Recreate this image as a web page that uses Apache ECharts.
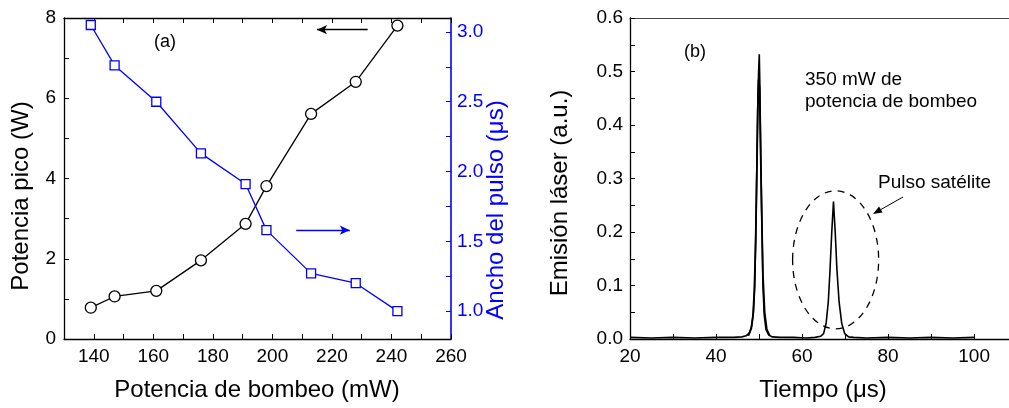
<!DOCTYPE html>
<html>
<head>
<meta charset="utf-8">
<script src="https://cdn.jsdelivr.net/npm/echarts@6.0.0/dist/echarts.min.js"></script>
<style>
  html, body { margin: 0; padding: 0; background: #fff; }
  #chart { width: 1009px; height: 408px; }
</style>
</head>
<body>
<div id="chart"></div>
<script>
// (a) potencia de bombeo vs potencia pico / ancho del pulso
var pumpPower = [139, 147, 161, 176, 191, 198, 213, 228, 242];
var peakPower = [0.78, 1.06, 1.20, 1.96, 2.87, 3.81, 5.61, 6.41, 7.81];
var pulseWidth = [3.05, 2.76, 2.50, 2.13, 1.91, 1.58, 1.27, 1.20, 1.00];

// (b) traza de osciloscopio
var time = [20, 25, 30, 35, 40, 44, 46, 47, 47.8, 48.3, 48.7, 49.0, 49.3, 49.55, 49.75, 49.9, 50.05, 50.2, 50.4, 50.65, 50.9, 51.2, 51.6, 52.2, 53,
  55, 58, 61, 63, 64.3, 65.0, 65.6, 66.1, 66.5, 66.9, 67.3, 67.7, 68.1, 68.6, 69.2, 69.9, 70.8, 72, 75, 80, 85, 90, 95, 100];
var emission = [0.003, 0.002, 0.003, 0.002, 0.003, 0.003, 0.004, 0.006, 0.012, 0.025, 0.05, 0.10, 0.22, 0.36, 0.46, 0.5, 0.532, 0.47, 0.34, 0.22, 0.1, 0.045, 0.018, 0.008, 0.004,
  0.003, 0.003, 0.002, 0.003, 0.005, 0.01, 0.03, 0.07, 0.13, 0.2, 0.257, 0.2, 0.13, 0.07, 0.03, 0.01, 0.004, 0.003, 0.002, 0.003, 0.002, 0.003, 0.002, 0.003];
// segunda traza superpuesta del pulso principal
var time2 = [47.5, 48.2, 48.6, 48.9, 49.2, 49.5, 49.7, 49.9, 50.1, 50.3, 50.6, 50.9, 51.3, 51.8, 52.5];
var emission2 = [0.006, 0.02, 0.045, 0.09, 0.18, 0.32, 0.43, 0.485, 0.47, 0.38, 0.24, 0.12, 0.05, 0.018, 0.006];

// ticks y etiquetas
var pumpLabels = [140, 160, 180, 200, 220, 240, 260];
var pumpTicks = [130, 140, 150, 160, 170, 180, 190, 200, 210, 220, 230, 240, 250, 260];
var peakLabels = [0, 2, 4, 6, 8];
var peakTicks = [0, 1, 2, 3, 4, 5, 6, 7, 8];
var widthLabels = [1.0, 1.5, 2.0, 2.5, 3.0];
var widthTicks = [1.0, 1.25, 1.5, 1.75, 2.0, 2.25, 2.5, 2.75, 3.0];
var timeLabels = [20, 40, 60, 80, 100];
var timeTicks = [20, 30, 40, 50, 60, 70, 80, 90, 100];
var emissionLabels = [0.0, 0.1, 0.2, 0.3, 0.4, 0.5, 0.6];
var emissionTicks = [0, 0.05, 0.1, 0.15, 0.2, 0.25, 0.3, 0.35, 0.4, 0.45, 0.5, 0.55, 0.6];

var FONT = "'Liberation Sans', Arial, sans-serif";
var BLUE = '#0000ff';

function zip(a, b) {
  var out = [];
  for (var i = 0; i < a.length; i++) out.push([a[i], b[i]]);
  return out;
}

// eje generico con ticks hacia dentro
function axis(o) {
  return {
    type: 'value',
    gridIndex: o.grid,
    position: o.position,
    min: o.min,
    max: o.max,
    axisLine: { show: true, onZero: false, lineStyle: { color: o.color || '#000', width: o.lineWidth || 1.3 } },
    axisTick: {
      show: !!o.ticks, inside: true, length: 5, customValues: o.ticks,
      lineStyle: { color: o.color || '#000', width: 1 }
    },
    axisLabel: {
      show: !!o.labels, customValues: o.labels, margin: o.margin || 8,
      color: o.color || '#000', fontSize: 19, fontFamily: FONT,
      formatter: function (v) { return o.decimals ? v.toFixed(o.decimals) : String(v); },
      showMinLabel: true, showMaxLabel: true
    },
    splitLine: { show: false }
  };
}

var chart = echarts.init(document.getElementById('chart'), null, { renderer: 'canvas' });

chart.setOption({
  animation: false,
  backgroundColor: '#fff',
  grid: [
    { left: 64, top: 18, width: 387, height: 321 },
    { left: 630, top: 18, right: 0, height: 321 }
  ],
  xAxis: [
    axis({ grid: 0, position: 'bottom', min: 130, max: 260, ticks: pumpTicks, labels: pumpLabels }),
    axis({ grid: 0, position: 'top', min: 130, max: 260, ticks: pumpTicks }),
    axis({ grid: 1, position: 'bottom', min: 20, max: 108.1, ticks: timeTicks, labels: timeLabels }),
    axis({ grid: 1, position: 'top', min: 20, max: 108.1, lineWidth: 1.2, color: '#444' })
  ],
  yAxis: [
    axis({ grid: 0, position: 'left', min: 0, max: 8, ticks: peakTicks, labels: peakLabels }),
    axis({ grid: 0, position: 'right', min: 0.8, max: 3.1, ticks: widthTicks, labels: widthLabels, decimals: 1, color: BLUE, margin: 6, lineWidth: 1.6 }),
    axis({ grid: 1, position: 'left', min: 0, max: 0.6, ticks: emissionTicks, labels: emissionLabels, decimals: 1, margin: 7 })
  ],
  series: [
    {
      name: 'Potencia pico',
      type: 'line',
      xAxisIndex: 0, yAxisIndex: 0,
      data: zip(pumpPower, peakPower),
      symbol: 'circle', symbolSize: 11,
      lineStyle: { color: '#000', width: 1.3 },
      itemStyle: { color: '#fff', borderColor: '#000', borderWidth: 1.3 },
      markLine: {
        silent: true, symbol: ['none', 'arrow'], symbolSize: [7, 10],
        label: { show: false },
        lineStyle: { color: '#000', type: 'solid', width: 1.3 },
        data: [[{ coord: [232, 7.71] }, { coord: [215, 7.71] }]]
      },
      z: 3
    },
    {
      name: 'Ancho del pulso',
      type: 'line',
      xAxisIndex: 0, yAxisIndex: 1,
      data: zip(pumpPower, pulseWidth),
      symbol: 'rect', symbolSize: 9,
      lineStyle: { color: BLUE, width: 1.3 },
      itemStyle: { color: '#fff', borderColor: BLUE, borderWidth: 1.3 },
      markLine: {
        silent: true, symbol: ['none', 'arrow'], symbolSize: [7, 10],
        label: { show: false },
        lineStyle: { color: BLUE, type: 'solid', width: 1.3 },
        data: [[{ coord: [208, 1.58] }, { coord: [226, 1.58] }]]
      },
      z: 4
    },
    {
      name: 'Emision',
      type: 'line',
      xAxisIndex: 2, yAxisIndex: 2,
      data: zip(time, emission),
      showSymbol: false, symbol: 'none',
      lineStyle: { color: '#000', width: 1.6 },
      z: 3
    },
    {
      name: 'Emision 2',
      type: 'line',
      xAxisIndex: 2, yAxisIndex: 2,
      data: zip(time2, emission2),
      showSymbol: false, symbol: 'none',
      lineStyle: { color: '#000', width: 1.8 },
      z: 3
    }
  ]
});

// anotaciones
function text(x, y, s, o) {
  o = o || {};
  return {
    type: 'text', x: x, y: y, rotation: o.rotation || 0, z: 10,
    style: {
      text: s, fill: o.color || '#000', font: (o.size || 19) + 'px ' + FONT,
      align: o.align || 'center', verticalAlign: 'middle', lineHeight: o.lineHeight
    }
  };
}

function arrow(x1, y1, x2, y2) {
  var ang = Math.atan2(y2 - y1, x2 - x1);
  var L = 9, W = 3.5;
  var bx = x2 - L * Math.cos(ang), by = y2 - L * Math.sin(ang);
  return [
    { type: 'line', z: 10, shape: { x1: x1, y1: y1, x2: bx, y2: by }, style: { stroke: '#000', lineWidth: 1 } },
    { type: 'polygon', z: 10, shape: { points: [[x2, y2], [bx - W * Math.sin(ang), by + W * Math.cos(ang)], [bx + W * Math.sin(ang), by - W * Math.cos(ang)]] }, style: { fill: '#000' } }
  ];
}

// elipse punteada alrededor del pulso satelite (coordenadas de datos)
var c = chart.convertToPixel({ xAxisIndex: 2, yAxisIndex: 2 }, [67.8, 0.148]);
var e = chart.convertToPixel({ xAxisIndex: 2, yAxisIndex: 2 }, [77.8, 0.277]);

var g = [
  text(165, 42, '(a)', { size: 18 }),
  text(695, 52, '(b)', { size: 18 }),
  text(805, 80, '350 mW de', { align: 'left' }),
  text(805, 102, 'potencia de bombeo', { align: 'left' }),
  text(878, 183, 'Pulso satélite', { align: 'left' }),
  text(257, 390, 'Potencia de bombeo (mW)', { size: 24 }),
  text(823, 390, 'Tiempo (μs)', { size: 24 }),
  text(21, 196, 'Potencia pico (W)', { size: 24, rotation: Math.PI / 2 }),
  text(496, 210, 'Ancho del pulso (μs)', { size: 24, rotation: Math.PI / 2, color: BLUE }),
  text(560, 193, 'Emisión láser (a.u.)', { size: 24, rotation: Math.PI / 2 }),
  {
    type: 'ellipse', z: 9,
    shape: { cx: c[0], cy: c[1], rx: e[0] - c[0], ry: c[1] - e[1] },
    style: { fill: null, stroke: '#000', lineWidth: 1.3, lineDash: [7, 6] }
  }
].concat(arrow(903, 197, 873, 214));

chart.setOption({ graphic: g });
</script>
</body>
</html>
